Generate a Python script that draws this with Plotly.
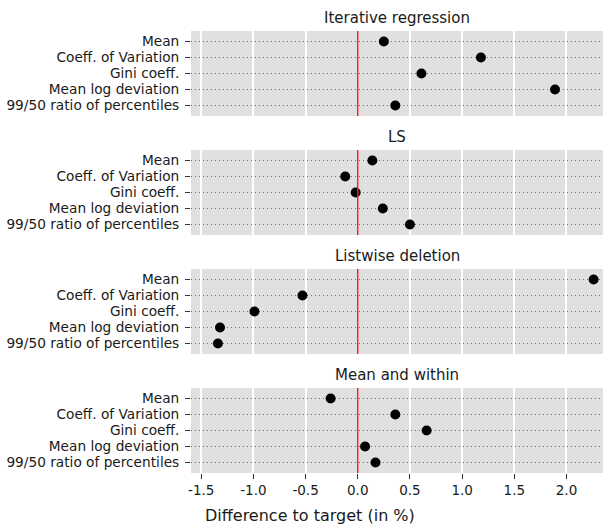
import plotly.graph_objects as go

panels = ["Iterative regression", "LS", "Listwise deletion", "Mean and within"]
measures = ["Mean", "Coeff. of Variation", "Gini coeff.", "Mean log deviation", "99/50 ratio of percentiles"]
iterative_regression = [0.25, 1.18, 0.61, 1.89, 0.36]
ls = [0.14, -0.12, -0.02, 0.24, 0.50]
listwise_deletion = [2.26, -0.53, -0.99, -1.32, -1.34]
mean_and_within = [-0.26, 0.36, 0.66, 0.07, 0.17]
x_tickvals = [-1.5, -1.0, -0.5, 0.0, 0.5, 1.0, 1.5, 2.0]
x_ticktext = ["-1.5", "-1.0", "-0.5", "0.0", "0.5", "1.0", "1.5", "2.0"]
x_title = "Difference to target (in %)"

series = [iterative_regression, ls, listwise_deletion, mean_and_within]

W, H = 603, 527
ML, MR, MT, MB = 191, 0, 31, 53
plot_h = H - MT - MB
FONT = "DejaVu Sans"
TXT = "#1a1a1a"

fig = go.Figure()
layout = dict(
    width=W, height=H,
    margin=dict(l=ML, r=MR, t=MT, b=MB, pad=0),
    paper_bgcolor="white",
    plot_bgcolor="#e0e0e0",
    showlegend=False,
    font=dict(family=FONT, size=13.7, color=TXT),
    annotations=[],
)

for k, (name, vals) in enumerate(zip(panels, series)):
    top_px = 31 + 119 * k
    bot_px = 116 + 119 * k
    d0 = max(0.0, (H - MB - bot_px) / plot_h)
    d1 = min(1.0, (H - MB - top_px) / plot_h)
    sfx = "" if k == 0 else str(k + 1)
    xa = "x" + sfx
    ya = "y" + sfx
    fig.add_trace(go.Scatter(
        x=vals, y=list(range(len(measures))),
        mode="markers",
        marker=dict(color="black", size=10),
        xaxis=xa, yaxis=ya, hoverinfo="skip", cliponaxis=False,
    ))
    last = (k == len(panels) - 1)
    layout["xaxis" + sfx] = dict(
        domain=[0, 1], anchor=ya, range=[-1.598, 2.35],
        tickvals=x_tickvals, ticktext=x_ticktext if last else [""] * len(x_tickvals),
        showticklabels=last,
        ticks="outside" if last else "", ticklen=5, tickwidth=1, tickcolor="#333",
        showgrid=True, gridcolor="white", gridwidth=1.5,
        zeroline=False, showline=False,
        tickfont=dict(size=13.5, color=TXT),
    )
    layout["yaxis" + sfx] = dict(
        domain=[d0, d1], anchor=xa, range=[4.656, -0.656],
        tickvals=list(range(len(measures))), ticktext=measures,
        ticks="outside", ticklen=5, tickwidth=1, tickcolor="#333",
        ticklabelstandoff=3,
        showgrid=True, gridcolor="#707070", gridwidth=1, griddash="1px,3px",
        zeroline=False, showline=False,
        tickfont=dict(size=13.7, color=TXT),
    )
    layout["annotations"].append(dict(
        text=name, xref="paper", yref="paper", x=0.5, y=d1,
        xanchor="center", yanchor="bottom", yshift=2, showarrow=False,
        font=dict(size=15, color=TXT, family=FONT),
    ))
    fig.add_shape(type="line", xref=xa, yref=ya + " domain", x0=0, x1=0, y0=0, y1=1,
                  line=dict(color="#f02020", width=1.5), layer="above")

layout["annotations"].append(dict(
    text=x_title, xref="paper", yref="paper",
    x=(310 - ML) / (W - ML - MR), y=(H - MB - 515) / plot_h,
    xanchor="center", yanchor="middle", showarrow=False,
    font=dict(size=16, color=TXT, family=FONT),
))

fig.update_layout(**layout)
fig.write_html(
    "out.html",
    config={"displayModeBar": False},
    post_script="document.body.style.margin='0px';document.body.style.overflow='hidden';",
)
